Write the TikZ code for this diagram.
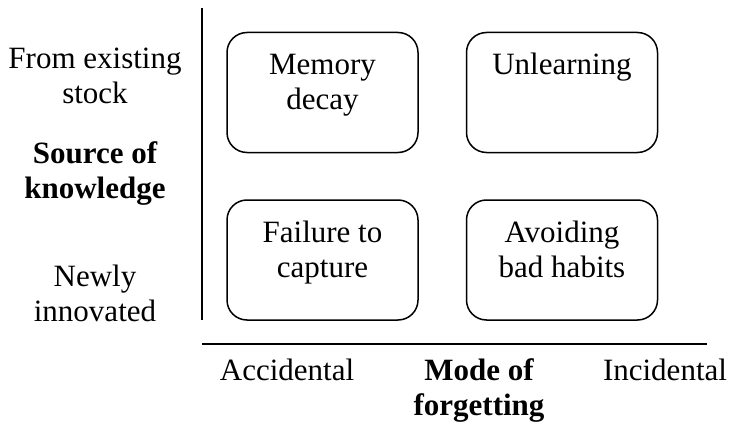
\documentclass[tikz,border=0pt]{standalone}
\usepackage{fontspec}
\setmainfont{Liberation Serif}
\begin{document}
\begin{tikzpicture}[x=1pt,y=-1pt,
  quad/.style={draw, line width=1.5pt, rounded corners=20pt,
    minimum width=191pt, minimum height=120pt, inner sep=0pt},
  lbl/.style={align=center, inner sep=0pt, font=\fontsize{31}{35}\selectfont},
  hd/.style={lbl, font=\fontsize{31}{35}\selectfont\bfseries},
  axisline/.style={line width=1.5pt}]
\useasboundingbox (0,0) rectangle (733,425);

% axes
\coordinate (vtop) at (202,8);
\coordinate (vbot) at (202,320);
\coordinate (hleft) at (202,344);
\coordinate (hright) at (707,344);
\draw[axisline] (vtop) -- (vbot);
\draw[axisline] (hleft) -- (hright);

% vertical axis labels
\node[lbl] (existing) at (95,79.5) {\strut From existing\\\strut stock};
\node[hd]  (source)   at (95,173.5) {\strut Source of\\\strut knowledge};
\node[lbl] (newly)    at (95,296.5) {\strut Newly\\\strut innovated};

% horizontal axis labels
\node[lbl] (accidental) at (287,373) {\strut Accidental};
\node[hd]  (mode)       at (479,390.5) {\strut Mode of\\\strut forgetting};
\node[lbl] (incidental) at (665,373) {\strut Incidental};

% quadrants
\node[quad] (q11) at (322.5,92.5) {};
\node[quad] (q12) at (562,92.5) {};
\node[quad] (q21) at (322.5,260) {};
\node[quad] (q22) at (562,260) {};

\node[lbl] (t11) at ([yshift=-53pt]q11.north) {\strut Memory\\\strut decay};
\node[lbl] (t12) at ([yshift=-35.5pt]q12.north) {\strut Unlearning};
\node[lbl] (t21) at ([yshift=-53.5pt]q21.north) {\strut Failure to\\\strut capture};
\node[lbl] (t22) at ([yshift=-53.5pt]q22.north) {\strut Avoiding\\\strut bad habits};
\end{tikzpicture}
\end{document}
